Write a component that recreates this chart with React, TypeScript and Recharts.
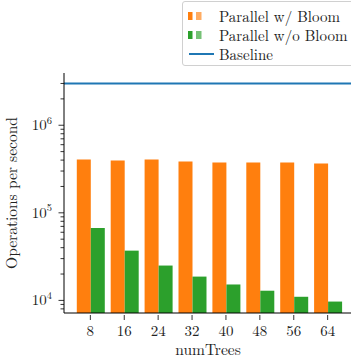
import React from 'react';
import { ComposedChart, Bar, XAxis, YAxis, ReferenceLine } from 'recharts';

// Throughput per number of trees
const categories = ['8', '16', '24', '32', '40', '48', '56', '64'];
const withBloom = [406000, 395000, 406000, 385000, 375000, 375000, 375000, 365000];
const withoutBloom = [67000, 37000, 25000, 18700, 15200, 12900, 11000, 9700];
const baseline = 3000000;

const majorTicks = [1e4, 1e5, 1e6];
const minorTicks = [8e3, 9e3, 2e4, 3e4, 4e4, 5e4, 6e4, 7e4, 8e4, 9e4, 2e5, 3e5, 4e5, 5e5, 6e5, 7e5, 8e5, 9e5, 2e6, 3e6];
const yTicks = [...minorTicks, ...majorTicks].sort((a, b) => a - b);
const yDomain: [number, number] = [7180, 3950000];

const ORANGE = '#ff7f0e';
const GREEN = '#2ca02c';
const BLUE = '#1f77b4';
const FONT = "'Latin Modern Roman', 'Liberation Serif', serif";

const data = categories.map((c, i) => ({
  name: c,
  withBloom: withBloom[i],
  withoutBloom: withoutBloom[i],
}));

const YTick = (props: any) => {
  const { x, y, payload } = props;
  const v = payload.value as number;
  const exp = Math.round(Math.log10(v));
  const isMajor = Math.abs(Math.log10(v) - exp) < 1e-9;
  return (
    <g>
      <line x1={x - (isMajor ? 5.5 : 3.5)} x2={x} y1={y} y2={y} stroke="#000" strokeWidth={0.8} />
      {isMajor && (
        <text x={x - 12} y={y + 5} textAnchor="end" style={{ fontFamily: FONT }} fontSize={15} fill="#222">
          10
          <tspan dy={-6.5} fontSize={10.5}>{exp}</tspan>
        </text>
      )}
    </g>
  );
};

const XTick = (props: any) => {
  const { x, y, payload } = props;
  return (
    <g>
      <line x1={x} x2={x} y1={y} y2={y + 5} stroke="#000" strokeWidth={0.8} />
      <text x={x} y={y + 21} textAnchor="middle" style={{ fontFamily: FONT }} fontSize={15} fill="#222">
        {payload.value}
      </text>
    </g>
  );
};

const PatchIcon = ({ color }: { color: string }) => (
  <svg width={16} height={10} style={{ display: 'block' }}>
    <rect x={0} y={1} width={4.5} height={8} fill={color} />
    <rect x={8} y={1} width={5.5} height={8} fill={color} opacity={0.65} />
  </svg>
);

const legendItems = [
  { label: 'Parallel w/ Bloom', kind: 'patch', color: ORANGE },
  { label: 'Parallel w/o Bloom', kind: 'patch', color: GREEN },
  { label: 'Baseline', kind: 'line', color: BLUE },
];

export default function App() {
  return (
    <div style={{ position: 'absolute', left: 0, top: 0, width: 351, height: 361, overflow: 'hidden', background: '#fff', fontFamily: FONT }}>
      <ComposedChart
        width={358}
        height={361}
        data={data}
        margin={{ top: 73, right: 4, bottom: 0, left: 0 }}
        barCategoryGap={3.4}
        barGap={0}
      >
        <XAxis
          dataKey="name"
          height={48}
          padding={{ left: 9.4, right: 9.4 }}
          axisLine={{ stroke: '#000', strokeWidth: 1 }}
          tickLine={false}
          tickSize={0}
          tick={<XTick />}
          interval={0}
          label={{
            content: () => (
              <text x={208} y={355} textAnchor="middle" style={{ fontFamily: FONT }} fontSize={15.5} fill="#222">
                numTrees
              </text>
            ),
          }}
        />
        <XAxis xAxisId="top" dataKey="name" orientation="top" height={0} tick={false} tickLine={false} axisLine={{ stroke: '#000', strokeWidth: 1 }} />
        <YAxis
          scale="log"
          domain={yDomain}
          allowDataOverflow
          ticks={yTicks}
          interval={0}
          width={64}
          axisLine={{ stroke: '#000', strokeWidth: 1 }}
          tickLine={false}
          tickSize={0}
          tickMargin={0}
          tick={<YTick />}
          label={{
            content: () => (
              <text x={17} y={193} transform="rotate(-90 17 193)" textAnchor="middle" style={{ fontFamily: FONT }} fontSize={15.5} fill="#222">
                Operations per second
              </text>
            ),
          }}
        />
        <YAxis yAxisId="right" orientation="right" width={0} domain={[0, 1]} tick={false} tickLine={false} axisLine={{ stroke: '#000', strokeWidth: 1 }} />
        <Bar dataKey="withBloom" fill={ORANGE} isAnimationActive={false} />
        <Bar dataKey="withoutBloom" fill={GREEN} isAnimationActive={false} />
        <ReferenceLine y={baseline} stroke={BLUE} strokeWidth={2} />
      </ComposedChart>
      <div
        style={{
          position: 'absolute',
          left: 182,
          top: 1,
          width: 180,
          height: 65,
          border: '1px solid #d0d0d0',
          borderRadius: 3,
          background: '#fff',
          boxSizing: 'border-box',
          fontFamily: FONT,
          fontSize: 15,
          color: '#222',
        }}
      >
        {legendItems.map((it, i) => (
          <div key={it.label} style={{ position: 'absolute', left: 0, top: 4.5 + i * 19, width: 176, height: 18 }}>
            <div style={{ position: 'absolute', left: it.kind === 'line' ? 6 : 5, top: 4, width: 26, height: 10, display: 'flex', alignItems: 'center' }}>
              {it.kind === 'patch' ? (
                <PatchIcon color={it.color} />
              ) : (
                <div style={{ width: 25, height: 2, background: it.color }} />
              )}
            </div>
            <div style={{ position: 'absolute', left: 36, top: 0, height: 18, lineHeight: '18px', whiteSpace: 'nowrap' }}>
              {it.label}
            </div>
          </div>
        ))}
      </div>
    </div>
  );
}
